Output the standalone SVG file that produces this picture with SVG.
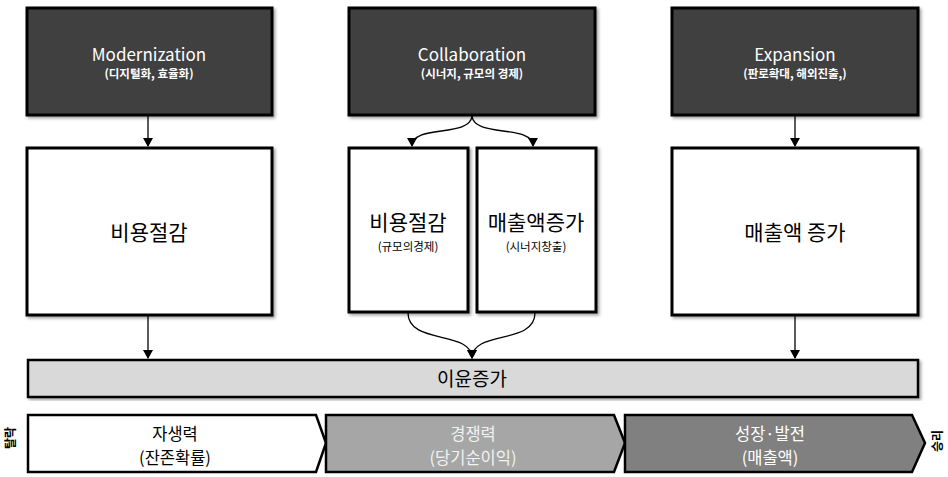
<svg xmlns="http://www.w3.org/2000/svg" width="948" height="477" viewBox="0 0 948 477">
<defs>
<filter id="sh" x="-5%" y="-5%" width="112%" height="115%">
<feDropShadow dx="2" dy="2" stdDeviation="1.5" flood-color="#000" flood-opacity="0.35"/>
</filter>
<marker id="arr" markerWidth="10" markerHeight="10" refX="8" refY="5" orient="auto" markerUnits="userSpaceOnUse">
<path d="M0,0 L9,5 L0,10 Z" fill="#000"/>
</marker>
<style>
text{font-family:"Noto Sans CJK KR","Noto Sans",sans-serif;text-anchor:middle;}
.dark{fill:#404040;stroke:#000;stroke-width:3;}
.white{fill:#fff;stroke:#000;stroke-width:3;}
.t1{fill:#fff;font-size:17px;}
.t2{fill:#fff;font-size:11.5px;font-weight:bold;}
.big{fill:#000;font-size:21px;}
.sub{fill:#000;font-size:11.5px;}
.bt{font-size:16.5px;}
.side{font-size:12px;font-weight:bold;fill:#000;}
.conn{fill:none;stroke:#000;stroke-width:1.3;marker-end:url(#arr);}
</style>
</defs>
<rect width="948" height="477" fill="#fff"/>

<g id="modernization">
<rect class="dark" x="27" y="8" width="245" height="107" filter="url(#sh)"/>
<text class="t1" x="149" y="61">Modernization</text>
<text class="t2" x="149" y="78">(디지털화, 효율화)</text>
</g>
<g id="collaboration">
<rect class="dark" x="349" y="8" width="246" height="107" filter="url(#sh)"/>
<text class="t1" x="472" y="61">Collaboration</text>
<text class="t2" x="472" y="78">(시너지, 규모의 경제)</text>
</g>
<g id="expansion">
<rect class="dark" x="672" y="8" width="246" height="107" filter="url(#sh)"/>
<text class="t1" x="795" y="61">Expansion</text>
<text class="t2" x="795" y="78">(판로확대, 해외진출,)</text>
</g>

<g id="cost-left">
<rect class="white" x="27" y="148" width="245" height="167" filter="url(#sh)"/>
<text class="big" x="149" y="240">비용절감</text>
</g>
<g id="cost-mid">
<rect class="white" x="349" y="148" width="119" height="164" filter="url(#sh)"/>
<text class="big" x="408" y="230">비용절감</text>
<text class="sub" x="408" y="251">(규모의경제)</text>
</g>
<g id="sales-mid">
<rect class="white" x="477" y="148" width="119" height="164" filter="url(#sh)"/>
<text class="big" x="536" y="230">매출액증가</text>
<text class="sub" x="536" y="251">(시너지창출)</text>
</g>
<g id="sales-right">
<rect class="white" x="672" y="148" width="246" height="167" filter="url(#sh)"/>
<text class="big" x="795" y="240">매출액 증가</text>
</g>

<g id="profit">
<rect x="28" y="360" width="890" height="37" fill="#d9d9d9" stroke="#000" stroke-width="2.5" filter="url(#sh)"/>
<text x="472" y="386" font-size="19" fill="#000">이윤증가</text>
</g>

<g id="connectors">
<line class="conn" x1="148" y1="116" x2="148" y2="146"/>
<line class="conn" x1="795" y1="116" x2="795" y2="146"/>
<path class="conn" d="M472,116 C470,138 412,124 412,146"/>
<path class="conn" d="M472,116 C474,138 533,124 533,146"/>
<line class="conn" x1="148" y1="316" x2="148" y2="358"/>
<line class="conn" x1="795" y1="316" x2="795" y2="358"/>
<path class="conn" d="M408,313 C408,345 472,330 472,358"/>
<path class="conn" d="M535,313 C535,345 472,330 472,358"/>
</g>

<g id="stage1">
<polygon points="28,415 316,415 326,443 316,472 28,472" fill="#fff" stroke="#000" stroke-width="2.5"/>
<text class="bt" x="175" y="440" fill="#000">자생력</text>
<text class="bt" x="175" y="464" fill="#000">(잔존확률)</text>
</g>
<g id="stage2">
<polygon points="326,415 614,415 625,443 614,472 326,472" fill="#a6a6a6" stroke="#000" stroke-width="2.5"/>
<text class="bt" x="473" y="440" fill="#f2f2f2">경쟁력</text>
<text class="bt" x="473" y="464" fill="#f2f2f2">(당기순이익)</text>
</g>
<g id="stage3">
<polygon points="625,415 912,415 925,443 912,472 625,472" fill="#808080" stroke="#000" stroke-width="2.5"/>
<text class="bt" x="770" y="440" fill="#fff">성장·발전</text>
<text class="bt" x="770" y="464" fill="#fff">(매출액)</text>
</g>

<g id="labels">
<text class="side" transform="translate(15,438) rotate(-90)">탈락</text>
<text class="side" transform="translate(942,441) rotate(-90)">승리</text>
</g>
</svg>
